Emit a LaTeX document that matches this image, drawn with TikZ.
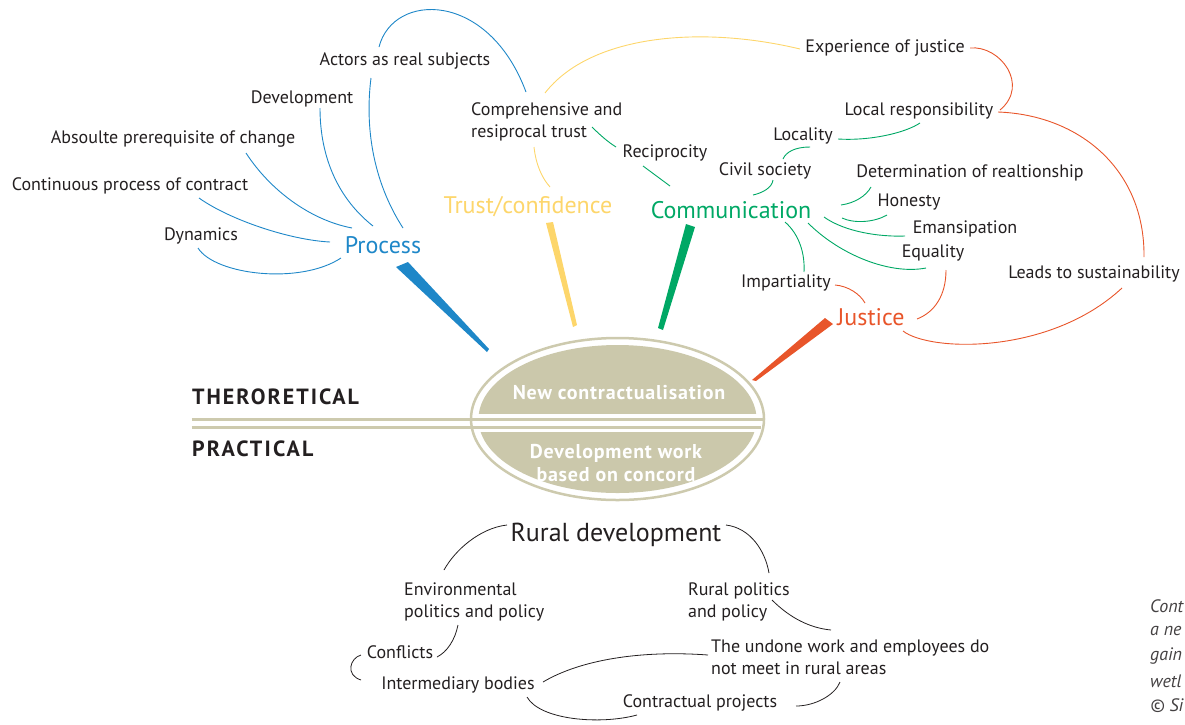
\documentclass[tikz,border=0pt]{standalone}
\usepackage{fontspec}
\setmainfont{PT Sans}
\usetikzlibrary{calc}
\definecolor{pblue}{HTML}{1E87C8}
\definecolor{pyel}{HTML}{FDD66B}
\definecolor{pgreen}{HTML}{00A865}
\definecolor{porange}{HTML}{E8552A}
\definecolor{tanline}{HTML}{CDCAAE}
\definecolor{tanfill}{HTML}{CBC8AB}
\definecolor{ink}{HTML}{231F20}
\begin{document}
\begin{tikzpicture}[x=1pt,y=-1pt,
  lbl/.style={font=\fontsize{18}{22}\selectfont, inner sep=0pt, text=ink},
  big/.style={font=\fontsize{24}{28}\selectfont, inner sep=0pt},
  hdr/.style={font=\bfseries\fontsize{22}{26}\selectfont\addfontfeature{LetterSpace=9}, inner sep=0pt, text=ink, anchor=west},
  inell/.style={font=\bfseries\fontsize{20}{23}\selectfont\addfontfeature{LetterSpace=4}, inner sep=0pt, text=white, align=center},
  note/.style={font=\itshape\fontsize{18}{22}\selectfont, inner sep=0pt, text=ink!85, anchor=west},
  bl/.style={draw=pblue, line width=0.9pt},
  yl/.style={draw=pyel, line width=0.9pt},
  gl/.style={draw=pgreen, line width=0.9pt},
  ol/.style={draw=porange, line width=0.9pt},
  kl/.style={draw=ink, line width=0.8pt},
]
\useasboundingbox (0,0) rectangle (1185,724);

% ---------- central ellipse ----------
\coordinate (ec) at (617.5,419);
\draw[tanline, line width=2.5pt, fill=white] (ec) ellipse [x radius=146.5pt, y radius=81pt];
\begin{scope}
  \clip (ec) ellipse [x radius=139pt, y radius=74pt];
  \fill[tanfill] (470,330) rectangle (770,414);
  \fill[tanfill] (470,432) rectangle (770,510);
\end{scope}
\draw[tanline, line width=3pt] (191.5,419) -- (764,419);
\draw[tanline, line width=3pt] (191.5,427.5) -- (761,427.5);
\node[inell] (newc) at (619,393) {New contractualisation};
\node[inell] (devw) at (616,463.5) {Development work\\based on concord};
\node[hdr] (theo) at (192,397) {THERORETICAL};
\node[hdr, font=\bfseries\fontsize{22}{26}\selectfont\addfontfeature{LetterSpace=10}] (prac) at (192,449) {PRACTICAL};

% ---------- wedges ----------
\fill[pblue] (396,267) -- (408,262) -- (489,349) -- (487,352) -- cycle;
\fill[pyel] (546,223) -- (553,222) -- (577,325) -- (573,327) -- cycle;
\fill[pgreen] (686,224) -- (695,227) -- (663,330) -- (658,328) -- cycle;
\fill[porange] (825,318) -- (833,324) -- (756,381) -- (752,380) -- cycle;

% ---------- category labels ----------
\node[big, text=pblue] (proc) at (383,245) {Process};
\node[big, text=pyel] (trust) at (528,207) {Trust/confidence};
\node[big, text=pgreen] (comm) at (731,210) {Communication};
\node[big, text=porange] (just) at (871,317) {Justice};

% ---------- process items ----------
\node[lbl] (act) at (405,61) {Actors as real subjects};
\node[lbl] (dev) at (302,99) {Development};
\node[lbl] (abs) at (173,139) {Absoulte prerequisite of change};
\node[lbl] (cont) at (130,186) {Continuous process of contract};
\node[lbl] (dyn) at (201,236) {Dynamics};

% ---------- trust / communication / justice items ----------
\node[lbl, anchor=west, align=left] (comp) at (471,122) {Comprehensive and\\resiprocal trust};
\node[lbl] (recip) at (665,153) {Reciprocity};
\node[lbl] (civ) at (765,171) {Civil society};
\node[lbl] (loc) at (803,136) {Locality};
\node[lbl] (locr) at (919,111) {Local responsibility};
\node[lbl] (exp) at (885,48) {Experience of justice};
\node[lbl] (det) at (970,173) {Determination of realtionship};
\node[lbl] (hon) at (909,202) {Honesty};
\node[lbl] (eman) at (965,229) {Emansipation};
\node[lbl] (equ) at (933,253) {Equality};
\node[lbl] (imp) at (786,283) {Impartiality};
\node[lbl] (lead) at (1094,274) {Leads to sustainability};

% ---------- practical items ----------
\node[lbl, font=\fontsize{26}{30}\selectfont] (rural) at (616,535) {Rural development};
\node[lbl, anchor=west, align=left] (env) at (404,602) {Environmental\\politics and policy};
\node[lbl, anchor=west, align=left] (rpol) at (688,602) {Rural politics\\and policy};
\node[lbl] (conf) at (400,652) {Conflicts};
\node[lbl] (inter) at (458,685) {Intermediary bodies};
\node[lbl, anchor=west, align=left] (undone) at (711,657) {The undone work and employees do\\not meet in rural areas};
\node[lbl] (contr) at (700,703) {Contractual projects};

% ---------- caption fragments visible at the right edge ----------
\node[note] (c1) at (1150,606) {Cont};
\node[note] (c2) at (1150,631) {a ne};
\node[note] (c3) at (1150,656) {gain};
\node[note] (c4) at (1150,681) {wetl};
\node[note] (c5) at (1150,706) {© Si};

% ---------- blue connectors ----------
\draw[bl] ($(act)+(-26,-14)$) .. controls (393,-8) and (488,-10) .. ($(comp.west)+(55,-30)$);
\draw[bl] ($(act)+(-34,17)$) .. controls (365,125) and (372,180) .. ($(proc)+(20,-17)$);
\draw[bl] ($(dev)+(18,9)$) .. controls (320,160) and (340,200) .. ($(proc)+(-10,-19)$);
\draw[bl] ($(abs)+(73,14)$) .. controls (270,190) and (310,220) .. ($(proc)+(-31,-17)$);
\draw[bl] ($(cont)+(69,12)$) .. controls (230,220) and (290,240) .. ($(proc)+(-53,-3)$);
\draw[bl] ($(dyn)+(-3,12)$) .. controls (215,275) and (300,285) .. ($(proc)+(-42,13)$);

% ---------- yellow connectors ----------
\draw[yl] ($(comp.west)+(74,-29)$) .. controls (590,35) and (700,25) .. ($(exp)+(-85,1)$);
\draw[yl] ($(comp.west)+(63,25)$) .. controls (536,165) and (542,178) .. ($(trust)+(22,-20)$);

% ---------- green connectors ----------
\draw[gl] ($(comp.west)+(121,5)$) .. controls (600,135) and (608,142) .. ($(recip)+(-49,-6)$);
\draw[gl] ($(recip)+(-22,13)$) -- ($(comm)+(-61,-24)$);
\draw[gl] ($(loc)+(7,11)$) .. controls (795,147) and (786,152) .. ($(civ)+(18,-12)$);
\draw[gl] ($(civ)+(8,9)$) .. controls (772,188) and (762,193) .. ($(comm)+(22,-15)$);
\draw[gl] ($(loc)+(35,3)$) .. controls (870,141) and (905,133) .. ($(locr)+(1,12)$);
\draw[gl] ($(comm)+(110,-5)$) .. controls (855,203) and (866,196) .. ($(det)+(-99,14)$);
\draw[gl] ($(comm)+(111,8)$) .. controls (855,224) and (875,222) .. ($(hon)+(-22,13)$);
\draw[gl] ($(comm)+(93,7)$) .. controls (845,232) and (880,237) .. ($(eman)+(-60,7)$);
\draw[gl] ($(comm)+(77,13)$) .. controls (840,255) and (890,275) .. ($(equ)+(-7,15)$);
\draw[gl] ($(comm)+(54,12)$) .. controls (800,235) and (805,255) .. ($(imp)+(18,-11)$);

% ---------- orange connectors ----------
\draw[ol] ($(imp)+(49,2)$) .. controls (848,286) and (860,294) .. ($(just)+(-6,-14)$);
\draw[ol] ($(just)+(46,2)$) .. controls (935,312) and (946,295) .. ($(equ)+(13,17)$);
\draw[ol] ($(just)+(32,14)$) .. controls (930,352) and (1050,355) .. ($(lead)+(28,14)$);
\draw[ol] ($(locr)+(79,1)$) .. controls (1080,115) and (1145,170) .. ($(lead)+(50,-17)$);
\draw[ol] ($(exp)+(85,0)$) .. controls (1000,45) and (1030,85) .. ($(locr)+(81,-1)$);

% ---------- black connectors ----------
\draw[kl] ($(rural)+(-109,-10)$) .. controls (480,528) and (455,550) .. ($(env.west)+(40,-32)$);
\draw[kl] ($(rural)+(110,-10)$) .. controls (750,528) and (765,550) .. ($(rpol.west)+(81,-29)$);
\draw[kl] ($(rpol.west)+(84,-2)$) .. controls (790,618) and (810,628) .. ($(undone.west)+(120,-27)$);
\draw[kl] ($(env.west)+(54,23)$) .. controls (455,640) and (447,652) .. ($(conf)+(37,5)$);
\draw[kl] ($(conf)+(-39,3)$) .. controls (350,658) and (345,675) .. ($(inter)+(-97,-5)$);
\draw[kl] ($(inter)+(85,-3)$) .. controls (580,660) and (640,650) .. ($(undone.west)+(-3,-2)$);
\draw[kl] ($(inter)+(69,12)$) .. controls (540,720) and (600,725) .. ($(contr)+(-63,12)$);
\draw[kl] ($(contr)+(96,3)$) .. controls (815,706) and (835,695) .. ($(undone.west)+(129,25)$);
\end{tikzpicture}
\end{document}
